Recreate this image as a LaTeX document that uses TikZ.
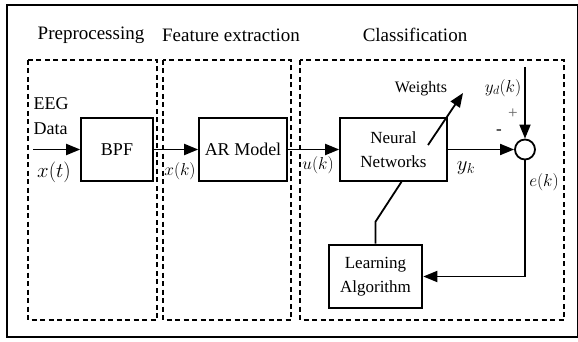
\documentclass[tikz,border=0pt]{standalone}
\usepackage{fontspec}
\setmainfont{Liberation Serif}
\usepackage{amsmath}
\usetikzlibrary{arrows.meta, positioning}

\tikzset{
  stagebox/.style={line width=1.5pt, dash pattern=on 5pt off 3.5pt},
  blockbox/.style={draw, line width=1.6pt, minimum height=63pt, inner sep=2pt,
    align=center, font=\fontsize{17}{24}\selectfont},
  sig/.style={-{Triangle[length=14pt,width=11pt]}, line width=1.8pt},
  title/.style={font=\fontsize{19}{22}\selectfont},
}

\begin{document}
\begin{tikzpicture}[x=1pt,y=-1pt]
\useasboundingbox (0,0) rectangle (578,342);
\draw[line width=2.6pt] (7,5) rectangle (578,337);

% the three stages
\draw[stagebox] (28,60) rectangle (157,320);
\draw[stagebox] (163,60) rectangle (291,320);
\draw[stagebox] (300,60) rectangle (564,320);
\node[title] (pre) at (91,35) {Preprocessing};
\node[title] (feat) at (231,35) {Feature extraction};
\node[title] (cls) at (415,35) {Classification};

% blocks
\node[blockbox, minimum width=72pt, font=\fontsize{18}{22}\selectfont] (bpf) at (117,149.5) {BPF};
\node[blockbox, minimum width=88pt, font=\fontsize{18}{22}\selectfont] (ar) at (243,149.5) {AR Model};
\node[blockbox, minimum width=107pt] (nn) at (393.5,149.5) {Neural\\Networks};
\node[blockbox, minimum width=93pt, line width=2.6pt] (la) at (375.5,276.5) {Learning\\Algorithm};
\node[draw, circle, line width=1.8pt, minimum size=20pt, inner sep=0pt] (sum) at (525,149.5) {};

\coordinate (in) at (33,149.5);
\coordinate (yd) at (525,67);
\coordinate (wa) at (428,145);
\coordinate (wb) at (463,93);

% signals
\draw[sig] (in) -- (bpf);
\draw[sig] (bpf) -- (ar);
\draw[sig] (ar) -- (nn);
\draw[sig] (nn) -- (sum);
\draw[sig] (yd) -- (sum);
\draw[sig] (sum) |- (la);
\draw[line width=1.8pt] (la.north) -- ++(0,-22) -- ([xshift=8pt]nn.south);
\draw[sig] (wa) -- (wb);

% labels
\node[align=left, anchor=west, font=\fontsize{18}{25}\selectfont] (eeg) at (30,116) {EEG\\Data};
\node[font=\fontsize{22}{24}\selectfont] (xt) at (54,172) {$x(t)$};
\node[font=\fontsize{17}{20}\selectfont] (xk) at (180,171) {$x(k)$};
\node[font=\fontsize{17}{20}\selectfont] (uk) at (318,165) {$u(k)$};
\node[font=\fontsize{20}{22}\selectfont] (yk) at (466,168) {$y_k$};
\node[font=\fontsize{19}{22}\selectfont] (ek) at (544,182) {$e(k)$};
\node[font=\fontsize{17}{20}\selectfont] (ydk) at (503,88) {$y_d(k)$};
\node[font=\fontsize{16}{20}\selectfont] (wts) at (421,89) {Weights};
\node[font=\fontsize{17}{20}\selectfont, text=black!60] (plus) at (513,114) {+};
\node[font=\fontsize{17}{20}\selectfont] (minus) at (499,132) {-};
\end{tikzpicture}
\end{document}
